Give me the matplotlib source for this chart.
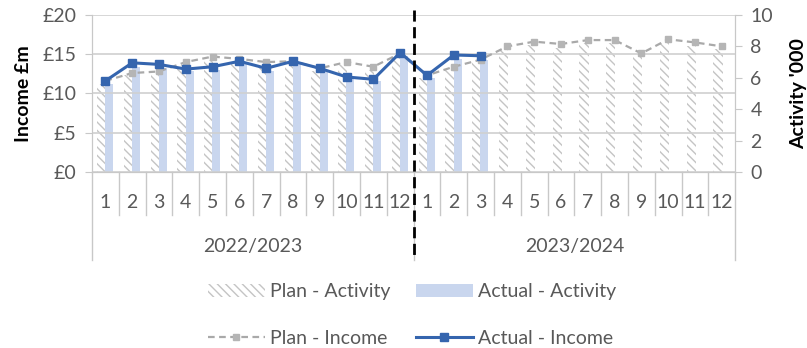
import numpy as np
import matplotlib
matplotlib.use("Agg")
import matplotlib.pyplot as plt
from matplotlib.patches import Patch
from matplotlib.lines import Line2D

plt.rcParams['font.family'] = ['Lato', 'DejaVu Sans']
plt.rcParams['hatch.linewidth'] = 1.0

# months within each financial year
months = [str(m) for m in range(1, 13)] * 2
years = ['2022/2023', '2023/2024']

# income, £m (left axis)
plan_income = [11.6, 12.6, 12.8, 14.0, 14.7, 14.4, 14.0, 14.1, 13.2, 14.0, 13.4, 15.1,
               12.3, 13.4, 14.3, 16.0, 16.6, 16.3, 16.8, 16.8, 15.1, 16.9, 16.5, 16.0]
actual_income = [11.6, 13.9, 13.7, 13.1, 13.4, 14.1, 13.2, 14.1, 13.2, 12.1, 11.8, 15.2,
                 12.3, 14.9, 14.8]

# activity, thousands (right axis)
plan_activity = [5.6, 6.2, 6.3, 6.8, 7.1, 7.0, 6.8, 6.9, 6.4, 6.8, 6.5, 7.4,
                 6.0, 6.5, 7.0, 7.8, 8.1, 7.9, 8.2, 8.2, 7.4, 8.2, 8.0, 7.8]
actual_activity = [5.6, 6.7, 6.6, 6.4, 6.5, 6.9, 6.4, 6.9, 6.4, 5.9, 5.8, 7.4,
                   6.0, 7.2, 7.1]

grey = '#595959'
blue = '#3565ae'

fig = plt.figure(figsize=(8.07, 3.48), dpi=100)
ax = fig.add_axes([0.114, 0.506, 0.797, 0.451])
ax2 = ax.twinx()

x = np.arange(len(months))
xa = np.arange(len(actual_income))

# activity bars on the secondary axis
ax2.bar(x - 0.14, plan_activity, width=0.34, color='white', edgecolor='#c4c4c4',
        hatch='\\\\\\\\', linewidth=0, zorder=2)
ax2.bar(xa + 0.14, actual_activity, width=0.3, color='#c9d6ee', linewidth=0, zorder=3)

ax2.set_ylim(0, 10)
ax2.set_yticks(range(0, 11, 2))

# income lines drawn on top of the bars
ax.set_zorder(ax2.get_zorder() + 1)
ax.patch.set_visible(False)
ax.plot(x, plan_income, color='#a9a9a9', ls=(0, (3, 2)), lw=1.6, marker='s',
        ms=5, mfc='#b5b5b5', mec='#b5b5b5', zorder=4)
ax.plot(xa, actual_income, color=blue, lw=2.2, marker='s', ms=6,
        mfc=blue, mec=blue, zorder=5)

ax.set_ylim(0, 20)
ax.set_xlim(-0.5, len(months) - 0.5)
ax.set_yticks(range(0, 21, 5))
ax.set_yticklabels(['£%d' % v for v in range(0, 21, 5)])
ax.grid(axis='y', color='#d0d0d0', lw=1.2)
ax.set_xticks([])

for a in (ax, ax2):
    for s in a.spines.values():
        s.set_color('#c8c8c8')
    a.spines['top'].set_visible(False)
    a.tick_params(axis='y', length=5, color='#c8c8c8', labelsize=14, labelcolor=grey, pad=6)

ax.set_ylabel('Income £m', fontsize=14, fontweight='bold', labelpad=8)
ax2.set_ylabel("Activity '000", fontsize=14, fontweight='bold', labelpad=12)

# two-level category axis
trans = ax.get_xaxis_transform()
for b in np.arange(-0.5, len(months), 1.0):
    y_end = -0.56 if b in (-0.5, 11.5, 23.5) else -0.274
    ax.plot([b, b], [0, y_end], color='#c8c8c8', lw=1, transform=trans, clip_on=False)
for i, m in enumerate(months):
    ax.text(i, -0.197, m, ha='center', va='center', fontsize=14, color=grey,
            transform=trans)
for k, yr in enumerate(years):
    ax.text(5.5 + 12 * k, -0.478, yr, ha='center', va='center', fontsize=14,
            color=grey, transform=trans)

# year boundary marker
ax.plot([11.5, 11.5], [1.03, -0.55], color='black', lw=2, ls=(0, (4, 2)),
        transform=trans, clip_on=False, zorder=6)

plan_act = Patch(facecolor='white', edgecolor='#c4c4c4', hatch='\\\\\\\\', linewidth=0)
actual_act = Patch(facecolor='#c9d6ee', linewidth=0)
plan_inc = Line2D([], [], color='#a9a9a9', ls=(0, (3, 2)), lw=1.6, marker='s', ms=5,
                  mfc='#b5b5b5', mec='#b5b5b5')
actual_inc = Line2D([], [], color=blue, lw=2.2, marker='s', ms=6, mfc=blue, mec=blue)

# legend fills column-wise, so activity/income pairs go per column
fig.legend([plan_act, plan_inc, actual_act, actual_inc],
           ['Plan - Activity', 'Plan - Income', 'Actual - Activity', 'Actual - Income'],
           ncol=2, loc='center', bbox_to_anchor=(0.511, 0.095),
           frameon=False, fontsize=14, handlelength=2.9, handletextpad=0.3,
           columnspacing=1.3, labelspacing=1.5, labelcolor=grey)

fig.savefig('out.png', dpi=100)
